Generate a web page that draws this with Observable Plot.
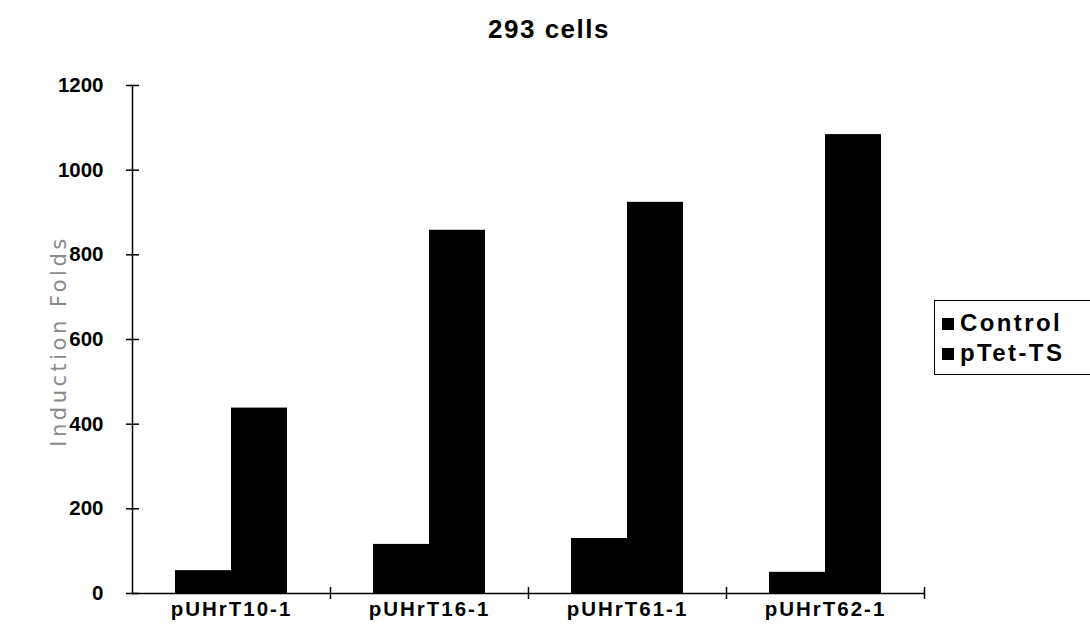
<!DOCTYPE html>
<html>
<head>
<meta charset="utf-8">
<script src="https://cdn.jsdelivr.net/npm/d3@7"></script>
<script src="https://cdn.jsdelivr.net/npm/@observablehq/plot@0.6"></script>
<style>
  html, body { margin: 0; padding: 0; background: #fff; }
  #wrap { position: relative; width: 1090px; height: 639px; overflow: hidden; font-family: "Liberation Sans", Arial, sans-serif; }
  #title { position: absolute; left: 0; width: 1098px; top: 14px; text-align: center; font-weight: bold; font-size: 26px; letter-spacing: 1.5px; }
  #ylabel { position: absolute; left: 59px; top: 341px; transform: translate(-50%, -50%) rotate(-90deg); white-space: nowrap; font-family: "DejaVu Sans", sans-serif; font-size: 21px; letter-spacing: 3.5px; color: #8a8a8a; }
  #legend { position: absolute; left: 934px; top: 300px; width: 170px; height: 75px; border: 1.5px solid #000; box-sizing: border-box; }
  .item { position: absolute; left: 7px; font-weight: bold; font-size: 24px; letter-spacing: 2.4px; line-height: 1; }
  .sw { display: inline-block; width: 12px; height: 12px; background: #000; margin-right: 6px; vertical-align: 1px; }
  #chart { position: absolute; left: 0; top: 0; }
  #chart svg text { font-family: "Liberation Sans", Arial, sans-serif; font-weight: bold; }
  #chart svg [aria-label="x-axis tick label"] text { letter-spacing: 2px; }
</style>
</head>
<body>
<div id="wrap">
  <div id="chart"></div>
  <div id="title"></div>
  <div id="ylabel"></div>
  <div id="legend"></div>
</div>
<script>
const titleText = "293 cells";
const yLabel = "Induction Folds";
const categories = ["pUHrT10-1", "pUHrT16-1", "pUHrT61-1", "pUHrT62-1"];
const seriesNames = ["Control", "pTet-TS"];
const controlValues = [54, 116, 130, 50];
const pTetValues = [438, 858, 924, 1084];
const yTicks = [0, 200, 400, 600, 800, 1000, 1200];

const W = 1090, H = 639;
const mL = 132, mR = 166, mT = 85, mB = 46;
const step = (W - mL - mR) / categories.length;
const sidePad = step * 0.217;
const barW = (step - 2 * sidePad) / 2;

const controlData = categories.map((c, i) => ({cat: c, value: controlValues[i]}));
const pTetData = categories.map((c, i) => ({cat: c, value: pTetValues[i]}));

const plot = Plot.plot({
  width: W, height: H,
  marginLeft: mL, marginRight: mR, marginTop: mT, marginBottom: mB,
  style: {background: "transparent", color: "#000", fontSize: "20px"},
  x: {type: "band", domain: categories, paddingInner: 0, paddingOuter: 0, label: null, axis: null},
  y: {domain: [0, 1200], label: null, axis: null},
  marks: [
    Plot.barY(controlData, {x: "cat", y: "value", fill: "#000", insetLeft: sidePad, insetRight: sidePad + barW}),
    Plot.barY(pTetData, {x: "cat", y: "value", fill: "#000", insetLeft: sidePad + barW, insetRight: sidePad}),
    Plot.frame({anchor: "left", strokeWidth: 1.5}),
    Plot.ruleY([0], {strokeWidth: 1.5}),
    Plot.axisY({ticks: yTicks, tickSize: 13, dx: 7, strokeWidth: 1.5, tickFormat: () => "", label: null}),
    Plot.axisY({ticks: yTicks, tickSize: 0, tickPadding: 29, fontSize: 20.5, fontWeight: "bold", label: null, tickFormat: d => String(d)}),
    Plot.ruleX(categories, {x: d => d, dx: step / 2, y1: 0, y2: 0, insetTop: 6, insetBottom: 6, strokeWidth: 1.5}),
    Plot.axisX({tickSize: 0, tickPadding: 8, fontSize: 20.5, fontWeight: "bold", label: null})
  ]
});
document.getElementById("chart").appendChild(plot);

document.getElementById("title").textContent = titleText;
document.getElementById("ylabel").textContent = yLabel;
const legend = document.getElementById("legend");
seriesNames.forEach((name, i) => {
  const d = document.createElement("div");
  d.className = "item";
  d.style.top = (10 + i * 30) + "px";
  d.innerHTML = '<span class="sw"></span>';
  d.appendChild(document.createTextNode(name));
  legend.appendChild(d);
});
</script>
</body>
</html>
